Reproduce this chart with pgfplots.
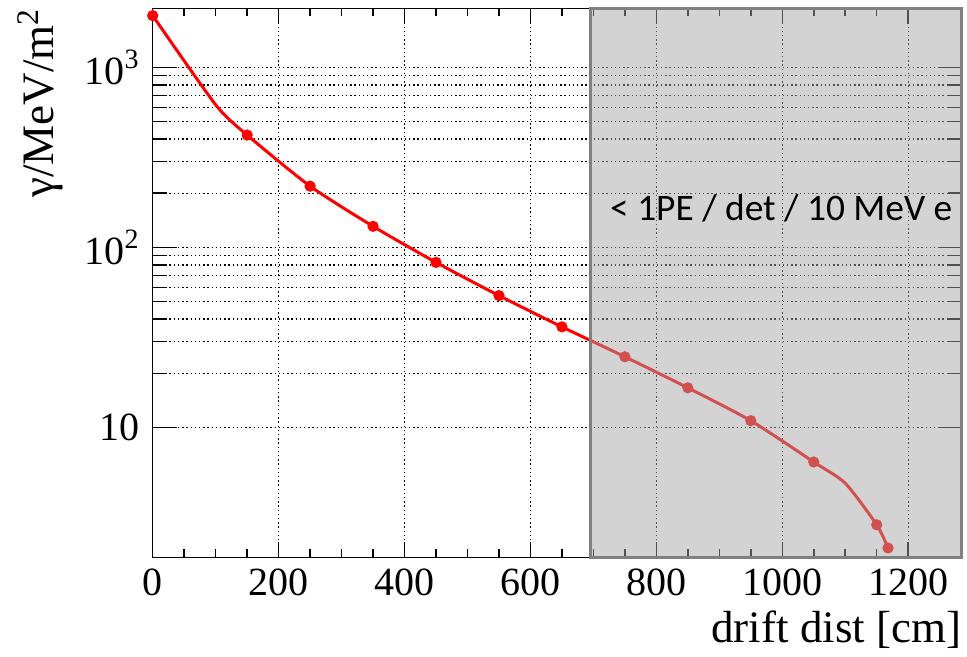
\documentclass[border=0pt]{standalone}
\usepackage{fontspec}
\setmainfont{Liberation Serif}
\newfontfamily\calib{Carlito}
\usepackage{pgfplots}
\pgfplotsset{compat=1.18}
\usetikzlibrary{calc}

\definecolor{boxfill}{RGB}{165,165,165}
\definecolor{boxedge}{RGB}{128,128,128}

\begin{document}
\begin{tikzpicture}
\begin{axis}[
    scale only axis,
    width=404.5pt, height=274.5pt,
    xmin=0, xmax=1285,
    ymode=log, ymin=1.9, ymax=2130,
    xtick={0,200,...,1200},
    minor x tick num=3,
    ytick={10,100,1000},
    yticklabels={10,10\textsuperscript{2},10\textsuperscript{3}},
    scaled x ticks=false,
    /pgf/number format/1000 sep={},
    /pgf/number format/assume math mode=true,
    tick align=inside,
    xtick style={/pgfplots/major tick length=7.8pt,/pgfplots/minor tick length=4pt},
    ytick style={/pgfplots/major tick length=12pt,/pgfplots/minor tick length=7pt},
    every tick/.style={black, line width=0.75pt},
    axis line style={line width=0.75pt},
    xmajorgrids, ymajorgrids, yminorgrids,
    grid style={black, line width=0.7pt, dash pattern=on 0.7pt off 1.4pt},
    minor grid style={black, line width=0.7pt, dash pattern=on 0.7pt off 1.4pt},
    xticklabel style={font=\fontsize{20}{20}\selectfont, inner sep=0pt, yshift=-5.5pt},
    yticklabel style={font=\fontsize{20}{20}\selectfont, inner sep=0pt, xshift=-6.4pt},
  ]
  % line through the markers plus two bends
  \addplot[red, line width=1.5pt, no marks, smooth, tension=0.4] coordinates {
      (0,1940) (100,620) (150,421) (250,219) (350,131) (450,82.6)
      (550,54) (650,36.2) (750,24.7) (850,16.6) (950,10.9)
      (1050,6.43) (1100,4.9) (1150,2.88) (1168,2.14)
    };
  \addplot[only marks, red, mark=*, mark size=2.6pt] coordinates {
      (0,1940) (150,421) (250,219) (350,131) (450,82.6)
      (550,54) (650,36.2) (750,24.7) (850,16.6) (950,10.9)
      (1050,6.43) (1150,2.88) (1168,2.14)
    };
  \coordinate (bx0) at (axis cs:695,1.9);
  \coordinate (bx1) at (axis cs:1285,2130);
  \coordinate (nw) at (rel axis cs:0,1);
  \coordinate (se) at (rel axis cs:1,0);
  \coordinate (sw) at (rel axis cs:0,0);
  \coordinate (ne) at (rel axis cs:1,1);
  \coordinate (txt) at (axis cs:726,140.6);
\end{axis}
\fill[boxfill, fill opacity=0.486] (bx0) rectangle (bx1);
\draw[boxedge, line width=1.25pt] (bx0) rectangle (bx1);
\node[anchor=base west, inner sep=0pt, font=\calib\fontsize{18.7}{19}\selectfont] at (txt) {< 1PE / det / 10 MeV e};
\node[rotate=90, anchor=south east, inner sep=0pt, font=\fontsize{22.5}{23}\selectfont] at ($(nw)+(-44.8pt,0)$) {γ/MeV/m\textsuperscript{2}};
\node[anchor=base east, inner sep=0pt, font=\fontsize{22.5}{23}\selectfont] at ($(se)+(0,-42.85pt)$) {drift dist [cm]};
\pgfresetboundingbox
\path[use as bounding box] ($(sw)+(-76.35pt,-49.85pt)$) rectangle ($(ne)+(2.65pt,4.15pt)$);
\end{tikzpicture}
\end{document}
